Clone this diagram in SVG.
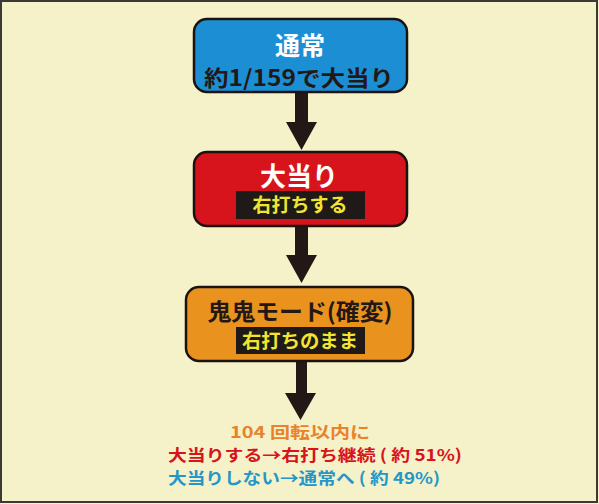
<svg xmlns="http://www.w3.org/2000/svg" width="599" height="504" viewBox="0 0 599 504">
<style>
.box{stroke:#1a1311;stroke-width:2.5}
.t{font-family:"Noto Sans CJK JP","Noto Sans",sans-serif;font-weight:bold}
.w{fill:#ffffff}
.d{fill:#231815}
.y{fill:#f2e531}
.lab{fill:#1f1a17}
.arr{fill:#231815}
</style>
<rect x="0" y="0" width="599" height="504" fill="#f5f1c8"/>
<rect x="1" y="1" width="596" height="501" fill="none" stroke="#3c3a36" stroke-width="2"/>
<g id="connectors">
<path class="arr" d="M295 92 H308 V122 H317 L301.5 150 L286 122 H295 Z"/>
<path class="arr" d="M295 226 H308 V255 H317 L301.5 283 L286 255 H295 Z"/>
<path class="arr" d="M296 361 H307 V393 H316 L300.5 420 L285 393 H296 Z"/>
</g>
<g id="node-normal">
<rect class="box" x="194" y="19" width="213" height="73" rx="13" fill="#1c8fd4"/>
<text class="t w" x="300" y="55" font-size="25" text-anchor="middle">通常</text>
<text class="t d" x="299" y="86" font-size="22" text-anchor="middle" textLength="190" lengthAdjust="spacingAndGlyphs">約1/159で大当り</text>
</g>
<g id="node-bonus">
<rect class="box" x="194" y="152" width="213" height="74" rx="13" fill="#d7141b"/>
<text class="t w" x="299" y="186" font-size="26" text-anchor="middle">大当り</text>
<rect class="lab" x="236" y="191" width="129" height="28"/>
<text class="t y" x="300" y="212" font-size="19" text-anchor="middle" textLength="95" lengthAdjust="spacingAndGlyphs">右打ちする</text>
</g>
<g id="node-oni">
<rect class="box" x="186" y="287" width="227" height="74" rx="13" fill="#e9921e"/>
<text class="t d" x="300" y="320" font-size="23" text-anchor="middle" textLength="185" lengthAdjust="spacingAndGlyphs">鬼鬼モード(確変)</text>
<rect class="lab" x="236" y="327" width="129" height="27"/>
<text class="t y" x="300" y="348" font-size="19" text-anchor="middle" textLength="116" lengthAdjust="spacingAndGlyphs">右打ちのまま</text>
</g>
<g id="result-text">
<text class="t" x="230" y="438" font-size="16" fill="#e8832a" textLength="140" lengthAdjust="spacingAndGlyphs">104 回転以内に</text>
<text class="t" x="168" y="461" font-size="16" fill="#d7141b" textLength="294" lengthAdjust="spacingAndGlyphs">大当りする→右打ち継続 ( 約 51%)</text>
<text class="t" x="168" y="484" font-size="16" fill="#2596c8" textLength="272" lengthAdjust="spacingAndGlyphs">大当りしない→通常へ ( 約 49%)</text>
</g>
</svg>
